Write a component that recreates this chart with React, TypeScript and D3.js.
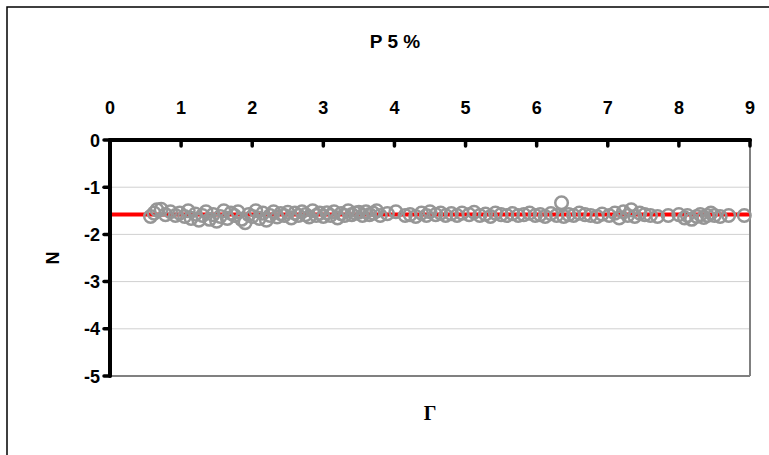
import React from "react";
import * as d3 from "d3";

const xTicks = [0, 1, 2, 3, 4, 5, 6, 7, 8, 9];
const yTicks = [0, -1, -2, -3, -4, -5];
const title = "P 5 %";
const xLabel = "Γ";
const yLabel = "N";
const refLevel = -1.58;

const gammaValues = [
  0.57, 0.62, 0.66, 0.72, 0.78, 0.85, 0.92, 0.98,
  1.05, 1.1, 1.14, 1.2, 1.25, 1.3, 1.35, 1.4, 1.45, 1.5,
  1.55, 1.6, 1.65, 1.7, 1.75, 1.8, 1.85, 1.9, 1.95, 2.0,
  2.05, 2.1, 2.15, 2.2, 2.25, 2.3, 2.35, 2.4, 2.45, 2.5,
  2.55, 2.6, 2.65, 2.7, 2.75, 2.8, 2.85, 2.9, 2.95, 3.0,
  3.05, 3.1, 3.15, 3.2, 3.25, 3.3, 3.35, 3.4, 3.45, 3.5,
  3.55, 3.6, 3.65, 3.7, 3.75, 3.8, 3.9,
  4.02, 4.15, 4.22, 4.3, 4.38, 4.45, 4.5,
  4.58, 4.65, 4.72, 4.8, 4.88, 4.95,
  5.05, 5.12, 5.2, 5.28, 5.35, 5.42, 5.5,
  5.58, 5.66, 5.74, 5.82, 5.9, 5.98,
  6.05, 6.12, 6.2, 6.28, 6.35, 6.38, 6.45,
  6.52, 6.6, 6.68, 6.76, 6.85, 6.92,
  7.02, 7.1, 7.16, 7.22, 7.28, 7.33, 7.38, 7.45,
  7.52, 7.6, 7.7, 7.85,
  8.0, 8.08, 8.12, 8.18, 8.25, 8.3, 8.35, 8.4, 8.45,
  8.5, 8.58, 8.7, 8.92,
];
const nValues = [
  -1.62, -1.55, -1.48, -1.47, -1.58, -1.52, -1.6, -1.55,
  -1.62, -1.5, -1.66, -1.57, -1.7, -1.6, -1.52, -1.68, -1.58, -1.72,
  -1.62, -1.5, -1.66, -1.55, -1.6, -1.52, -1.68, -1.75, -1.58, -1.62,
  -1.5, -1.66, -1.55, -1.7, -1.6, -1.52, -1.63, -1.56, -1.6, -1.53,
  -1.65, -1.55, -1.6, -1.52, -1.58, -1.63, -1.5, -1.6, -1.55, -1.62,
  -1.54, -1.6, -1.52, -1.65, -1.56, -1.6, -1.5, -1.58, -1.55, -1.53,
  -1.6, -1.52, -1.58, -1.55, -1.5, -1.6, -1.56,
  -1.52, -1.6, -1.58, -1.62, -1.55, -1.6, -1.52,
  -1.58, -1.55, -1.6, -1.56, -1.6, -1.55,
  -1.58, -1.53, -1.6, -1.57, -1.62, -1.55, -1.58,
  -1.6, -1.56, -1.6, -1.58, -1.55, -1.6,
  -1.58, -1.62, -1.56, -1.6, -1.33, -1.62, -1.58,
  -1.6, -1.55, -1.58, -1.6, -1.62, -1.57,
  -1.6, -1.55, -1.65, -1.52, -1.6, -1.48, -1.62, -1.55,
  -1.58, -1.6, -1.62, -1.6,
  -1.58, -1.65, -1.6, -1.68, -1.62, -1.58, -1.64, -1.6, -1.55,
  -1.6, -1.62, -1.6, -1.6,
];

export default function App() {
  const W = 769, H = 455;
  const left = 110, right = 750, top = 140, bottom = 376;
  const x = d3.scaleLinear().domain([0, 9]).range([left, right]);
  const y = d3.scaleLinear().domain([0, -5]).range([top, bottom]);
  const pts = gammaValues.map((g, i) => [g, nValues[i]]);
  const font = "'Liberation Sans', Arial, sans-serif";
  return (
    <svg width={W} height={H} style={{ position: "absolute", left: 0, top: 0 }}>
      <rect x={0} y={0} width={W} height={H} fill="#fff" />
      <rect x={7} y={7} width={W + 50} height={H + 50} fill="none" stroke="#000" strokeWidth={1.5} />
      <text x={395} y={48} textAnchor="middle" fontFamily={font} fontWeight="bold" fontSize={19}>{title}</text>
      {yTicks.filter(t => t !== 0 && t !== -5).map(t => (
        <line key={"g" + t} x1={left} x2={right} y1={y(t)} y2={y(t)} stroke="#d0d0d0" strokeWidth={1} />
      ))}
      <line x1={left} x2={right} y1={bottom} y2={bottom} stroke="#808080" strokeWidth={2} />
      <line x1={right} x2={right} y1={top} y2={bottom} stroke="#808080" strokeWidth={2} />
      <line x1={x(0)} x2={x(9)} y1={y(refLevel)} y2={y(refLevel)} stroke="#ff0000" strokeWidth={4} />
      {pts.map(([g, n], i) => (
        <circle key={i} cx={x(g)} cy={y(n)} r={6.3} fill="none" stroke="#969696" strokeWidth={2.5} />
      ))}
      <line x1={left} x2={right} y1={top} y2={top} stroke="#000" strokeWidth={4} strokeLinecap="round" />
      <line x1={left} x2={left} y1={top} y2={bottom} stroke="#000" strokeWidth={4} strokeLinecap="round" />
      {xTicks.map(t => (
        <g key={"x" + t}>
          <line x1={x(t)} x2={x(t)} y1={top} y2={top + 6} stroke="#000" strokeWidth={3.5} strokeLinecap="round" />
          <text x={x(t)} y={114} textAnchor="middle" fontFamily={font} fontWeight="bold" fontSize={18}>{t}</text>
        </g>
      ))}
      {yTicks.map(t => (
        <g key={"y" + t}>
          <line x1={left - 6} x2={left} y1={y(t)} y2={y(t)} stroke="#000" strokeWidth={3.5} strokeLinecap="round" />
          <text x={100} y={y(t) + 6.5} textAnchor="end" fontFamily={font} fontWeight="bold" fontSize={18}>{t}</text>
        </g>
      ))}
      <text transform={`translate(59,${(top + bottom) / 2}) rotate(-90)`} textAnchor="middle" fontFamily={font} fontWeight="bold" fontSize={18}>{yLabel}</text>
      <text x={430} y={420} textAnchor="middle" fontFamily="'Liberation Serif', 'Times New Roman', serif" fontWeight="bold" fontSize={20}>{xLabel}</text>
    </svg>
  );
}
